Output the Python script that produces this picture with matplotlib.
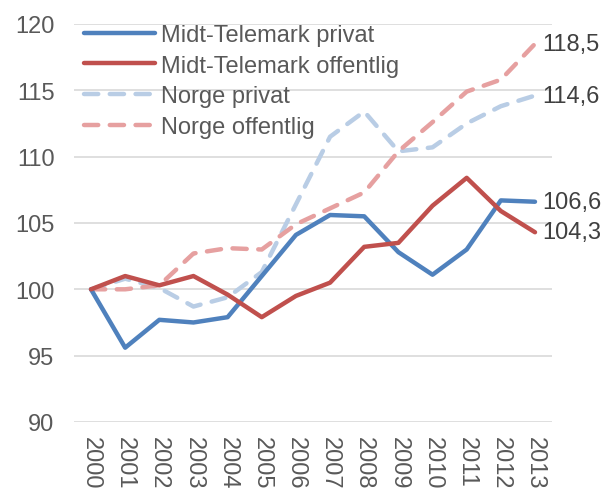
import matplotlib
matplotlib.use("Agg")
import matplotlib.pyplot as plt

years = ["2000", "2001", "2002", "2003", "2004", "2005", "2006",
         "2007", "2008", "2009", "2010", "2011", "2012", "2013"]
mt_privat = [100.0, 95.6, 97.7, 97.5, 97.9, 101.0, 104.1, 105.6, 105.5, 102.8, 101.1, 103.0, 106.7, 106.6]
mt_offentlig = [100.0, 101.0, 100.3, 101.0, 99.6, 97.9, 99.5, 100.5, 103.2, 103.5, 106.3, 108.4, 105.9, 104.3]
no_privat = [100.0, 100.8, 100.1, 98.7, 99.4, 101.3, 106.4, 111.5, 113.4, 110.4, 110.7, 112.5, 113.8, 114.6]
no_offentlig = [100.0, 100.0, 100.3, 102.7, 103.1, 103.0, 104.9, 106.1, 107.3, 110.4, 112.6, 114.9, 115.8, 118.5]
end_labels = ["106,6", "104,3", "114,6", "118,5"]
series_names = ["Midt-Telemark privat", "Midt-Telemark offentlig", "Norge privat", "Norge offentlig"]
yticks = [90, 95, 100, 105, 110, 115, 120]

plt.rcParams['font.family'] = ['Liberation Sans', 'DejaVu Sans']
txt = '#595959'
fs = 17

fig = plt.figure(figsize=(6.06, 4.89), dpi=100)
ax = fig.add_axes([0.122, 0.135, 0.789, 0.814])

x = list(range(len(years)))
series = [mt_privat, mt_offentlig, no_privat, no_offentlig]
colors = ['#4F81BD', '#C0504D', '#B9CDE5', '#E6A0A0']
styles = ['-', '-', (0, (3.2, 2.6)), (0, (3.2, 2.6))]
zs = [4, 4, 3, 3]
for s, c, ls, name, z in zip(series, colors, styles, series_names, zs):
    ax.plot(x, s, color=c, lw=3.2, linestyle=ls, label=name, zorder=z,
            solid_capstyle='round', dash_capstyle='round', solid_joinstyle='round')

for s, lab in zip(series, end_labels):
    ax.annotate(lab, xy=(x[-1], s[-1]), xytext=(5, 0), textcoords='offset points',
                va='center', ha='left', fontsize=fs, color='#404040', annotation_clip=False)

ax.set_xlim(-0.5, 13.5)
ax.set_ylim(90, 120)
ax.set_yticks(yticks)
ax.set_yticklabels([str(v) for v in yticks], fontsize=fs, color=txt)
ax.set_xticks(x)
ax.set_xticklabels(years, rotation=-90, fontsize=fs, color=txt)
ax.tick_params(length=0)
ax.tick_params(axis='y', pad=14)
ax.tick_params(axis='x', pad=10)
ax.grid(axis='y', color='#D9D9D9', lw=1.2)
ax.set_axisbelow(True)
for sp in ax.spines.values():
    sp.set_visible(False)

leg = ax.legend(loc='upper left', bbox_to_anchor=(0.021, 1.0), frameon=False, fontsize=fs,
                handlelength=3.0, labelspacing=0.37, handletextpad=0.25,
                borderaxespad=0.0, borderpad=0.0)
for t in leg.get_texts():
    t.set_color(txt)

fig.savefig('out.png', dpi=100)
